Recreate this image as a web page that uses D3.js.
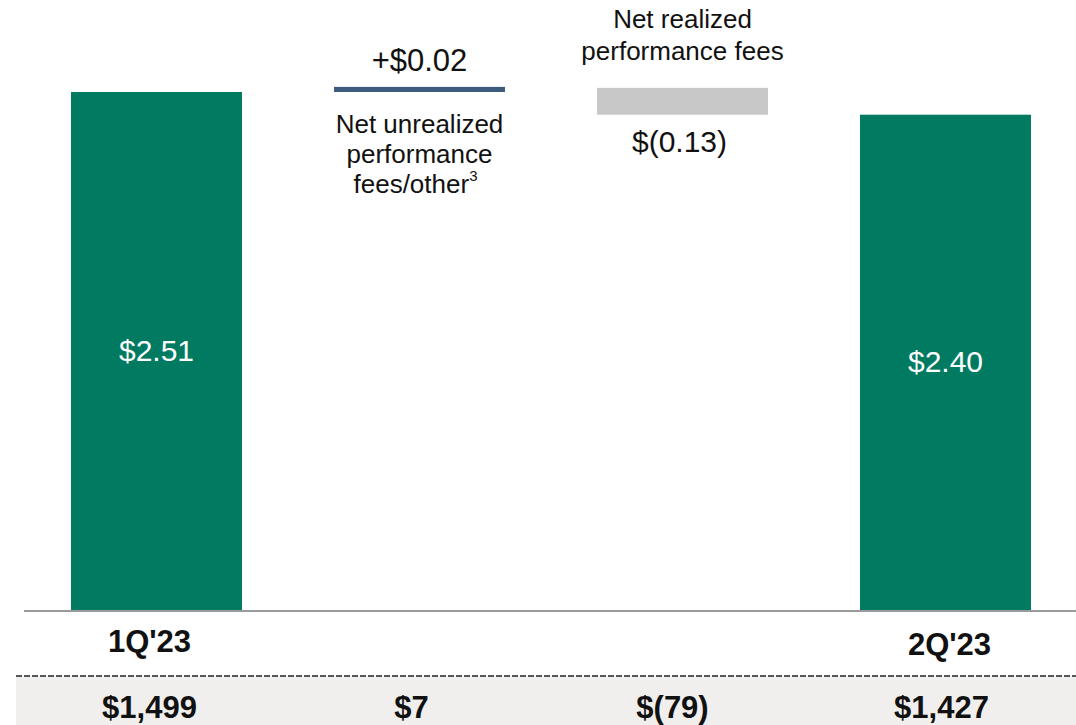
<!DOCTYPE html>
<html>
<head>
<meta charset="utf-8">
<script src="https://cdn.jsdelivr.net/npm/d3@7"></script>
<style>
  html, body { margin: 0; padding: 0; background: #fff; }
  svg { display: block; font-family: "Liberation Sans", Arial, Helvetica, sans-serif; }
</style>
</head>
<body>
<svg id="chart" width="1076" height="725"></svg>
<script>
// ---- Data ----
const categories = ["1Q'23", "Net unrealized", "Net realized", "2Q'23"];
const kinds = ["total", "delta", "delta", "total"];
const values = [2.51, 0.02, -0.13, 2.40];
const valueLabels = ["$2.51", "+$0.02", "$(0.13)", "$2.40"];
const periodLabels = ["1Q'23", "", "", "2Q'23"];
const bottomLabels = ["$1,499", "$7", "$(79)", "$1,427"];
const unrealizedLines = ["Net unrealized", "performance", "fees/other"];
const realizedLines = ["Net realized", "performance fees"];

// ---- Layout ----
const W = 1076, H = 725;
const svg = d3.select("#chart");

const x = d3.scaleBand().domain(categories).range([25, 1077]).paddingInner(0.35).paddingOuter(0.175);
const y = d3.scaleLinear().domain([0, 2.51]).range([610, 92]);

// waterfall computation
let running = 0;
const bars = categories.map((c, i) => {
  let y0, y1;
  if (kinds[i] === "total") { y0 = 0; y1 = values[i]; running = values[i]; }
  else { y0 = running; y1 = running + values[i]; running = y1; }
  return { cat: c, kind: kinds[i], v: values[i], lo: Math.min(y0, y1), hi: Math.max(y0, y1), i };
});
const colors = ["#007b61", "#3d5b7c", "#c8c8c8", "#007b61"];

// bottom band
svg.append("rect").attr("x", 16).attr("y", 676).attr("width", W - 16).attr("height", H - 676).attr("fill", "#f0efed");
svg.append("line").attr("x1", 16).attr("x2", W).attr("y1", 676).attr("y2", 676)
  .attr("stroke", "#555").attr("stroke-width", 2).attr("stroke-dasharray", "6,2");

// bars
svg.selectAll("rect.bar").data(bars).enter().append("rect")
  .attr("class", "bar")
  .attr("x", d => x(d.cat))
  .attr("width", x.bandwidth())
  .attr("y", d => d.kind === "delta" && d.v > 0 ? y(d.hi) - 1 : y(d.hi))
  .attr("height", d => {
    const h = y(d.lo) - y(d.hi);
    return d.kind === "delta" && d.v > 0 ? h + 1 : h;
  })
  .attr("fill", (d, i) => colors[i]);

// axis baseline
svg.append("line").attr("x1", 24).attr("x2", W).attr("y1", 611).attr("y2", 611)
  .attr("stroke", "#9a9a9a").attr("stroke-width", 2);

// total labels inside bars
bars.filter(d => d.kind === "total").forEach(d => {
  svg.append("text")
    .attr("x", x(d.cat) + x.bandwidth() / 2)
    .attr("y", (y(d.hi) + y(0)) / 2 + 10)
    .attr("text-anchor", "middle")
    .attr("fill", "#fff")
    .attr("font-size", 30)
    .text(valueLabels[d.i]);
});

// unrealized delta labels
{
  const d = bars[1];
  const cx = x(d.cat) + x.bandwidth() / 2;
  svg.append("text").attr("x", cx).attr("y", y(d.hi) - 17)
    .attr("text-anchor", "middle").attr("font-size", 31).attr("fill", "#111")
    .text(valueLabels[1]);
  unrealizedLines.forEach((ln, k) => {
    const t = svg.append("text").attr("text-anchor", "middle").attr("font-size", 26).attr("fill", "#111")
      .attr("x", cx).attr("y", y(d.lo) + 41 + k * 30);
    if (k === unrealizedLines.length - 1) {
      t.attr("x", cx - 4);
      t.append("tspan").text(ln);
      t.append("tspan").attr("dy", -12).attr("font-size", 15).text("3");
    } else {
      t.text(ln);
    }
  });
}

// realized delta labels
{
  const d = bars[2];
  const cx = x(d.cat) + x.bandwidth() / 2;
  realizedLines.forEach((ln, k) => {
    svg.append("text").attr("text-anchor", "middle").attr("font-size", 26).attr("fill", "#111")
      .attr("x", cx).attr("y", 28 + k * 32).text(ln);
  });
  svg.append("text").attr("x", cx - 3).attr("y", y(d.lo) + 37)
    .attr("text-anchor", "middle").attr("font-size", 30).attr("fill", "#111")
    .text(valueLabels[2]);
}

// period labels
const periodOffsets = [-7, 0, 0, 4];
const periodBase = [652, 0, 0, 655];
categories.forEach((c, i) => {
  if (!periodLabels[i]) return;
  svg.append("text")
    .attr("x", x(c) + x.bandwidth() / 2 + periodOffsets[i])
    .attr("y", periodBase[i])
    .attr("text-anchor", "middle").attr("font-size", 31).attr("font-weight", "bold").attr("fill", "#111")
    .text(periodLabels[i]);
});

// bottom row labels
const bottomOffsets = [-7, -8, -10, -4];
categories.forEach((c, i) => {
  svg.append("text")
    .attr("x", x(c) + x.bandwidth() / 2 + bottomOffsets[i])
    .attr("y", 718)
    .attr("text-anchor", "middle").attr("font-size", 31).attr("font-weight", "bold").attr("fill", "#111")
    .text(bottomLabels[i]);
});
</script>
</body>
</html>
